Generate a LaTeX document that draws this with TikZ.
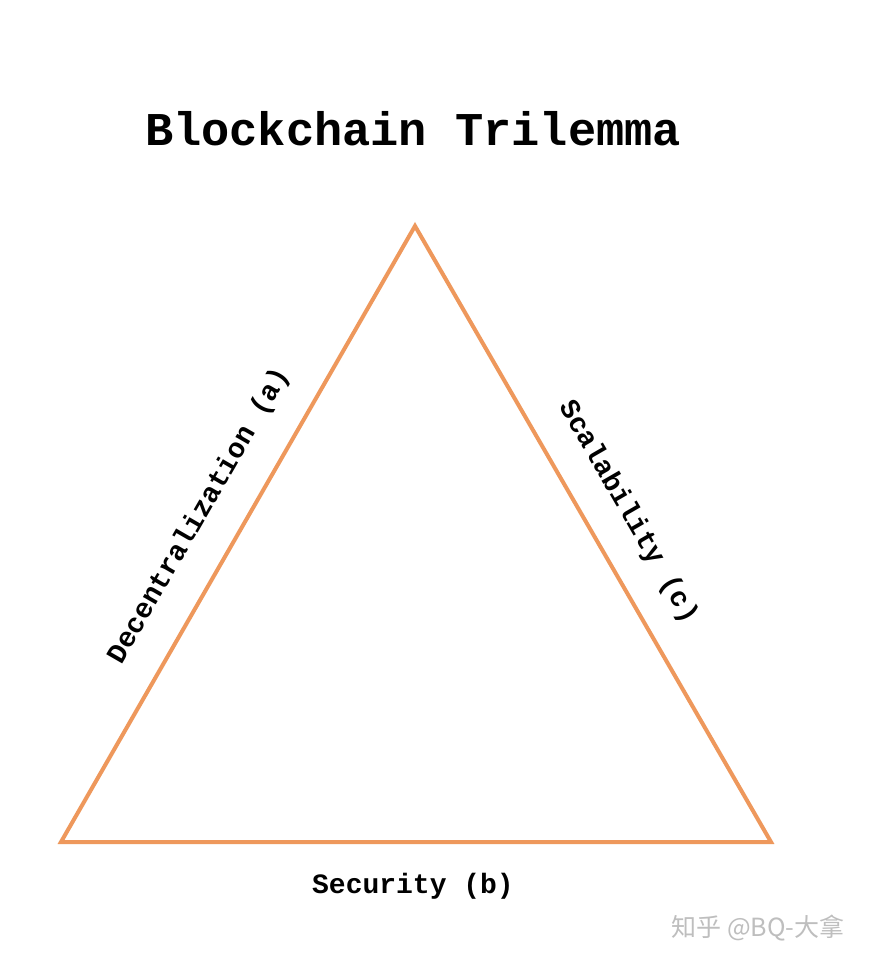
\documentclass[tikz,border=0pt]{standalone}
\usepackage{fontspec}
\setmonofont{Liberation Mono}
\newfontfamily\cjk{Noto Sans CJK SC}
\usepackage{xcolor}
\definecolor{triorange}{RGB}{238,152,92}
\definecolor{wmgray}{RGB}{190,190,190}

\begin{document}
\begin{tikzpicture}[x=1pt, y=-1pt,
  ttl/.style ={font=\ttfamily\bfseries\fontsize{47}{50}\selectfont, inner sep=0pt},
  side/.style={font=\ttfamily\bfseries\fontsize{28}{30}\selectfont, inner sep=0pt},
  tri/.style ={draw=triorange, line width=4pt, line join=miter},
  wm/.style  ={font=\cjk\fontsize{25}{27}\selectfont, text=wmgray, inner sep=0pt},
]
% page
\fill[white] (0,0) rectangle (871,963);
\useasboundingbox (0,0) rectangle (871,963);
% title
\node[ttl, anchor=base] at (413,145) (title) {Blockchain Trilemma};
% corners of the triangle
\coordinate (top)   at (415,226);
\coordinate (left)  at (61,842);
\coordinate (right) at (771,842);
\draw[tri] (top) -- (left) -- (right) -- cycle;
% the three sides
\node[side, rotate=60]  at (199,516) (dec) {Decentralization (a)};
\node[side, rotate=-60] at (628,512) (sca) {Scalability (c)};
\node[side, anchor=base] at (413,893) (sec) {Security (b)};
% watermark
\node[wm] at (758,928) (zhihu) {知乎 @BQ-大拿};
\end{tikzpicture}
\end{document}
